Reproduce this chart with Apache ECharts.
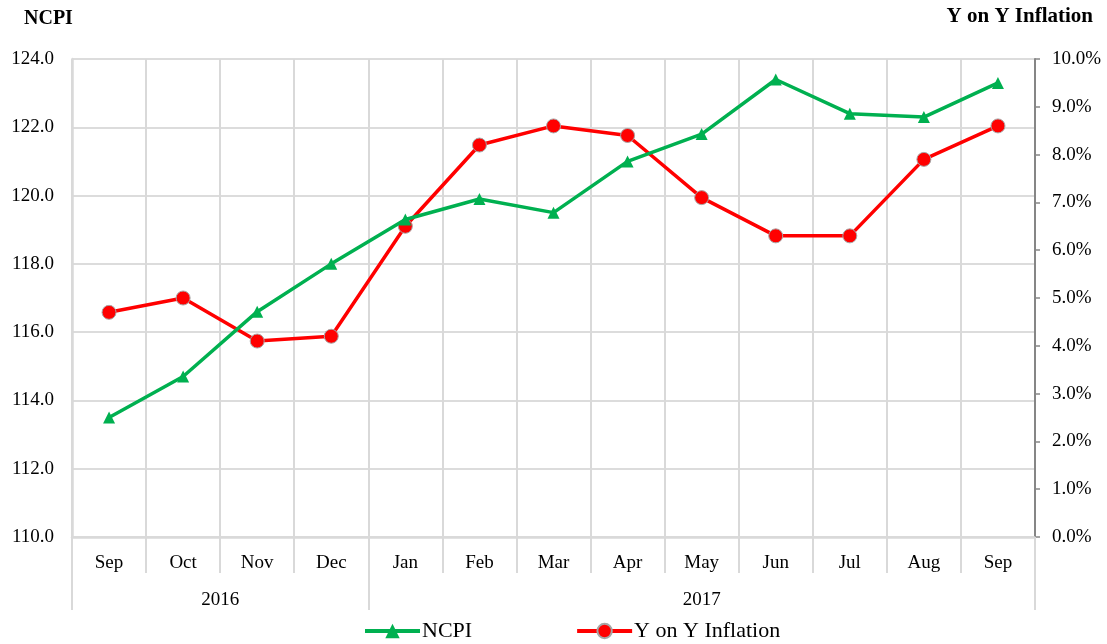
<!DOCTYPE html>
<html><head><meta charset="utf-8">
<script src="https://cdn.jsdelivr.net/npm/echarts@6/dist/echarts.min.js"></script>
<style>html,body{margin:0;padding:0;background:#fff}#c{width:1107px;height:644px}</style>
</head><body><div id="c"></div>
<script>
const months = ['Sep','Oct','Nov','Dec','Jan','Feb','Mar','Apr','May','Jun','Jul','Aug','Sep'];
const years = ['2016','2017'];
const yearLabelPos = [2, 8.5];
const yearBounds = [0, 4, 13];
const ncpi = [113.5,114.7,116.6,118.0,119.3,119.9,119.5,121.0,121.8,123.4,122.4,122.3,123.3];
const inflation = [4.7,5.0,4.1,4.2,6.5,8.2,8.6,8.4,7.1,6.3,6.3,7.9,8.6];

const F = '"Liberation Serif","Times New Roman",serif';
const chart = echarts.init(document.getElementById('c'));
chart.setOption({
  animation:false,
  textStyle:{fontFamily:F},
  title:[
    {text:'NCPI',left:19,top:4,textStyle:{fontFamily:F,fontSize:20,fontWeight:'bold',color:'#000'}},
    {text:'Y on Y Inflation',right:9,top:1,textStyle:{fontFamily:F,fontSize:21,fontWeight:'bold',color:'#000'}}
  ],
  grid:{left:72,right:72,top:59,bottom:107,containLabel:false},
  legend:{bottom:-3,left:358,itemWidth:55,itemHeight:18,itemGap:103,
    textStyle:{fontFamily:F,fontSize:22,color:'#000',padding:[0,0,0,-3]},
    data:[
      {name:'NCPI',lineStyle:{width:4}},
      {name:'Y on Y Inflation',lineStyle:{width:4}}
    ]},
  xAxis:[
    {type:'category',data:months,boundaryGap:true,position:'bottom',
     axisLine:{show:true,lineStyle:{color:'#d9d9d9',width:2.5}},
     axisTick:{show:true,interval:0,length:36,lineStyle:{color:'#d9d9d9',width:2}},
     axisLabel:{interval:0,margin:17,fontSize:19,color:'#000',fontFamily:F},
     splitLine:{show:true,interval:0,lineStyle:{color:'#d9d9d9',width:2}}},
    {type:'value',min:0,max:13,position:'bottom',
     axisLine:{show:false},
     axisTick:{show:true,customValues:yearBounds,length:73,lineStyle:{color:'#d9d9d9',width:2}},
     axisLabel:{show:true,customValues:yearLabelPos,margin:54,fontSize:19,color:'#000',fontFamily:F,
       formatter:function(v){const i=yearLabelPos.indexOf(v);return i>=0?years[i]:'';}},
     splitLine:{show:false}}
  ],
  yAxis:[
    {type:'value',min:110,max:124,interval:2,position:'left',
     axisLine:{show:true,lineStyle:{color:'#d9d9d9',width:2.5}},
     axisTick:{show:false},
     axisLabel:{margin:18,fontSize:19,color:'#000',fontFamily:F,formatter:v=>v.toFixed(1)},
     splitLine:{show:true,lineStyle:{color:'#d0d0d0',width:1.5}}},
    {type:'value',min:0,max:10,interval:1,position:'right',
     axisLine:{show:true,lineStyle:{color:'#868686',width:2}},
     axisTick:{show:true,inside:false,length:5,lineStyle:{color:'#868686',width:1.5}},
     axisLabel:{margin:17,fontSize:19,color:'#000',fontFamily:F,formatter:v=>v.toFixed(1)+'%'},
     splitLine:{show:false}}
  ],
  series:[
    {name:'NCPI',type:'line',xAxisIndex:0,yAxisIndex:0,data:ncpi,
     symbol:'triangle',symbolSize:12,
     lineStyle:{color:'#00b050',width:3.5},itemStyle:{color:'#00b050'},z:3},
    {name:'Y on Y Inflation',type:'line',xAxisIndex:0,yAxisIndex:1,data:inflation,
     symbol:'circle',symbolSize:14,
     lineStyle:{color:'#ff0000',width:3.5},itemStyle:{color:'#ff0000',borderColor:'#a6a6a6',borderWidth:1},z:2}
  ]
});
</script></body></html>
